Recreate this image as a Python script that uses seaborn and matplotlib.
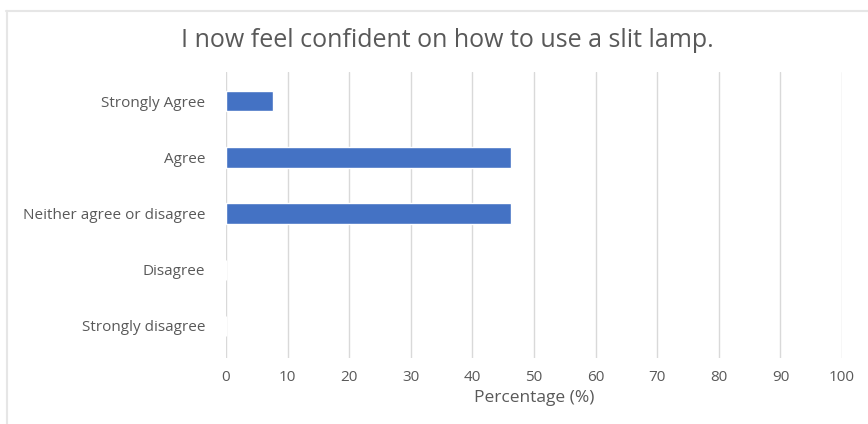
import matplotlib
matplotlib.use("Agg")
import matplotlib.pyplot as plt
import pandas as pd
import seaborn as sns
from matplotlib.lines import Line2D

# survey responses (percentage of respondents)
categories = [
    "Strongly Agree",
    "Agree",
    "Neither agree or disagree",
    "Disagree",
    "Strongly disagree",
]
percentages = [7.7, 46.2, 46.2, 0, 0]
x_ticks = [0, 10, 20, 30, 40, 50, 60, 70, 80, 90, 100]

title = "I now feel confident on how to use a slit lamp."
x_label = "Percentage (%)"

BAR_COLOR = "#4472C4"
TEXT_COLOR = "#595959"
GRID_COLOR = "#D9D9D9"

sns.set_theme(style="white")
plt.rcParams["font.family"] = ["Open Sans", "DejaVu Sans"]

df = pd.DataFrame({"Response": categories, "Percent": percentages})

fig = plt.figure(figsize=(8.68, 4.24), dpi=100)
ax = fig.add_axes([0.2604, 0.1557, 0.7097, 0.6745])

sns.barplot(
    data=df, x="Percent", y="Response", order=categories,
    color=BAR_COLOR, saturation=1, width=0.36, ax=ax,
)

ax.set_xlim(0, 100)
ax.set_ylim(4.57, -0.52)
ax.set_xticks(x_ticks)
ax.xaxis.grid(True, color=GRID_COLOR, linewidth=1)
ax.set_axisbelow(True)
for side in ["top", "right", "bottom", "left"]:
    ax.spines[side].set_visible(False)
ax.tick_params(axis="both", length=0, colors=TEXT_COLOR, labelsize=11)
ax.tick_params(axis="x", pad=9)
ax.tick_params(axis="y", pad=15)
ax.set_ylabel("")
ax.set_xlabel(x_label, color=TEXT_COLOR, fontsize=12.5, labelpad=3)

fig.text(0.515, 0.905, title, ha="center", va="center",
         fontsize=18, color=TEXT_COLOR)

# thin light frame around chart area
fig.add_artist(Line2D([6 / 868, 1], [1 - 10.5 / 424] * 2,
                      color="#E6E6E6", linewidth=1.5, transform=fig.transFigure))
fig.add_artist(Line2D([6.5 / 868] * 2, [0, 1 - 10.5 / 424],
                      color="#E6E6E6", linewidth=1.5, transform=fig.transFigure))

fig.savefig("out.png", dpi=100)
